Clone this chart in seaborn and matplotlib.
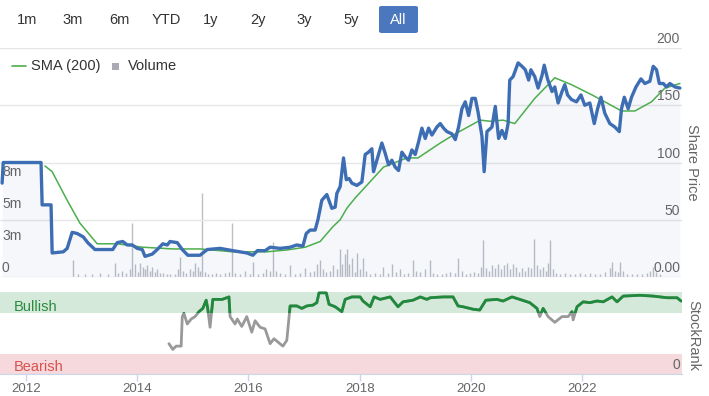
import matplotlib
matplotlib.use("Agg")
from matplotlib import pyplot as plt
from matplotlib.patches import Rectangle, FancyBboxPatch
from matplotlib.lines import Line2D
import seaborn as sns

# share price (decimal years)
price_years = [2011.57, 2011.59, 2012.27, 2012.29, 2012.45, 2012.47, 2012.67, 2012.74, 2012.83, 2012.92,
               2013.03, 2013.11, 2013.24, 2013.56, 2013.64, 2013.74, 2013.82, 2013.91, 2014.00, 2014.09,
               2014.14, 2014.27, 2014.36, 2014.46, 2014.54, 2014.59, 2014.72, 2014.81, 2014.91, 2015.13,
               2015.26, 2015.49, 2015.72, 2015.97, 2016.08, 2016.16, 2016.30, 2016.39, 2016.57, 2016.75,
               2016.87, 2016.98, 2017.04, 2017.11, 2017.20, 2017.25, 2017.32, 2017.41, 2017.50, 2017.56,
               2017.59, 2017.65, 2017.71, 2017.76, 2017.81, 2017.86, 2017.95, 2018.04, 2018.10, 2018.16,
               2018.22, 2018.25, 2018.34, 2018.40, 2018.46, 2018.52, 2018.58, 2018.64, 2018.70, 2018.76,
               2018.82, 2018.88, 2018.94, 2019.00, 2019.06, 2019.12, 2019.18, 2019.24, 2019.30, 2019.39,
               2019.45, 2019.51, 2019.57, 2019.66, 2019.72, 2019.78, 2019.84, 2019.90, 2019.96, 2020.02,
               2020.08, 2020.13, 2020.20, 2020.24, 2020.29, 2020.38, 2020.44, 2020.50, 2020.56, 2020.62,
               2020.67, 2020.70, 2020.76, 2020.85, 2020.92, 2020.98, 2021.04, 2021.08, 2021.15, 2021.21,
               2021.28, 2021.32, 2021.38, 2021.46, 2021.51, 2021.57, 2021.64, 2021.69, 2021.74, 2021.81,
               2021.90, 2021.98, 2022.05, 2022.14, 2022.22, 2022.28, 2022.34, 2022.41, 2022.50, 2022.59,
               2022.67, 2022.71, 2022.76, 2022.83, 2022.89, 2022.97, 2023.06, 2023.13, 2023.22, 2023.28,
               2023.34, 2023.39, 2023.46, 2023.52, 2023.58, 2023.67, 2023.76]
price_values = [82, 100, 100, 63, 63, 21, 22, 25, 39, 38,
                35, 30, 24, 24, 30, 31, 28, 28, 25, 24,
                18, 20, 24, 29, 28, 31, 30, 24, 19, 19,
                24, 25, 23, 21, 19, 23, 23, 26, 25, 26,
                28, 27, 38, 41, 41, 50, 67, 72, 60, 61,
                73, 79, 104, 85, 86, 82, 80, 83, 107, 109,
                112, 92, 107, 117, 108, 98, 102, 96, 93, 109,
                105, 102, 111, 107, 118, 130, 121, 130, 124, 131,
                134, 130, 127, 125, 120, 131, 147, 153, 141, 156,
                156, 144, 123, 92, 127, 131, 149, 121, 128, 121,
                134, 172, 175, 187, 184, 181, 172, 181, 175, 165,
                176, 185, 173, 162, 166, 152, 162, 168, 159, 155,
                153, 159, 150, 152, 134, 147, 157, 143, 134, 131,
                127, 147, 157, 147, 157, 166, 173, 169, 171, 184,
                181, 169, 169, 166, 169, 166, 165]

sma_years = [2012.34, 2012.47, 2012.74, 2012.97, 2013.28, 2013.64, 2014.10, 2014.64, 2015.13, 2015.72,
             2016.33, 2016.69, 2017.02, 2017.29, 2017.52, 2017.65, 2017.77, 2017.92, 2018.43, 2018.85,
             2019.05, 2019.45, 2019.72, 2020.17, 2020.35, 2020.58, 2020.79, 2021.15, 2021.51, 2021.81,
             2022.18, 2022.41, 2022.71, 2022.95, 2023.25, 2023.49, 2023.76]
sma_values = [97, 92, 67, 47, 29, 29, 26, 24.5, 24.5, 22,
              22, 23.6, 26, 31, 44, 50, 60, 69, 96, 104,
              104, 117, 125, 137, 136, 137, 134, 156, 174, 168,
              159, 153, 145, 145, 153, 165, 169]

# volume in millions
volume_years = [2012.85, 2012.93, 2013.06, 2013.19, 2013.33, 2013.47, 2013.60, 2013.65, 2013.73, 2013.80,
                2013.87, 2013.91, 2013.96, 2014.01, 2014.05, 2014.10, 2014.14, 2014.18, 2014.23, 2014.27,
                2014.32, 2014.36, 2014.41, 2014.46, 2014.54, 2014.59, 2014.68, 2014.73, 2014.77, 2014.82,
                2014.88, 2014.95, 2015.00, 2015.04, 2015.09, 2015.13, 2015.17, 2015.22, 2015.27, 2015.35,
                2015.42, 2015.49, 2015.58, 2015.65, 2015.70, 2015.76, 2015.85, 2015.94, 2016.03, 2016.08,
                2016.17, 2016.26, 2016.32, 2016.39, 2016.44, 2016.50, 2016.57, 2016.66, 2016.75, 2016.84,
                2016.93, 2017.02, 2017.11, 2017.18, 2017.23, 2017.29, 2017.34, 2017.40, 2017.47, 2017.52,
                2017.59, 2017.65, 2017.68, 2017.74, 2017.77, 2017.81, 2017.86, 2017.92, 2017.95, 2018.01,
                2018.06, 2018.12, 2018.19, 2018.28, 2018.37, 2018.42, 2018.51, 2018.58, 2018.65, 2018.73,
                2018.80, 2018.87, 2018.96, 2019.01, 2019.09, 2019.18, 2019.27, 2019.32, 2019.39, 2019.48,
                2019.55, 2019.63, 2019.72, 2019.77, 2019.84, 2019.91, 2019.99, 2020.06, 2020.13, 2020.18,
                2020.22, 2020.27, 2020.33, 2020.38, 2020.43, 2020.49, 2020.54, 2020.60, 2020.65, 2020.70,
                2020.76, 2020.81, 2020.87, 2020.92, 2020.97, 2021.03, 2021.08, 2021.14, 2021.19, 2021.24,
                2021.30, 2021.35, 2021.39, 2021.42, 2021.48, 2021.53, 2021.60, 2021.69, 2021.78, 2021.87,
                2021.96, 2022.05, 2022.14, 2022.23, 2022.32, 2022.41, 2022.50, 2022.54, 2022.59, 2022.65,
                2022.68, 2022.74, 2022.81, 2022.90, 2022.99, 2023.08, 2023.17, 2023.22, 2023.28, 2023.33,
                2023.40]
volume_values = [1.3, 0.2, 0.2, 0.2, 0.3, 0.2, 1.1, 0.3, 0.5, 0.3,
                 0.6, 4.2, 1.0, 0.4, 1.1, 0.8, 0.6, 0.9, 0.5, 0.8,
                 0.4, 0.6, 0.3, 0.3, 0.2, 0.2, 0.2, 0.6, 1.6, 0.5,
                 0.3, 0.6, 0.5, 1.1, 0.8, 0.5, 6.6, 0.4, 0.2, 0.2,
                 0.3, 0.2, 0.3, 0.4, 4.2, 0.3, 0.2, 0.5, 0.2, 1.2,
                 0.2, 0.3, 0.6, 0.5, 2.7, 0.5, 0.3, 0.2, 0.9, 0.2,
                 0.3, 0.7, 0.4, 0.5, 1.0, 1.3, 0.6, 0.4, 0.5, 0.9,
                 0.6, 2.2, 1.0, 1.8, 2.2, 1.0, 1.5, 0.4, 1.9, 0.6,
                 1.5, 0.5, 0.2, 0.3, 0.2, 0.8, 0.3, 1.0, 0.4, 0.6,
                 0.2, 0.3, 1.3, 0.5, 0.4, 0.6, 1.3, 0.3, 0.2, 0.2,
                 0.3, 0.4, 0.3, 1.5, 0.5, 0.2, 0.3, 0.4, 0.3, 0.8,
                 2.9, 0.7, 0.5, 0.9, 0.7, 1.0, 0.6, 0.9, 1.1, 0.6,
                 1.0, 0.8, 0.4, 0.7, 0.5, 0.8, 0.7, 3.0, 0.9, 0.6,
                 0.8, 0.5, 1.1, 2.9, 0.6, 0.3, 0.2, 0.3, 0.2, 0.2,
                 0.3, 0.2, 0.3, 0.2, 0.2, 0.4, 0.7, 1.2, 0.5, 0.4,
                 1.2, 0.5, 0.2, 0.2, 0.2, 0.2, 0.3, 0.5, 0.8, 0.4,
                 0.2]

rank_years = [2014.57, 2014.64, 2014.70, 2014.79, 2014.81, 2014.84, 2014.90, 2014.97, 2015.04, 2015.11,
              2015.18, 2015.24, 2015.27, 2015.31, 2015.36, 2015.53, 2015.65, 2015.67, 2015.76, 2015.80,
              2015.88, 2015.97, 2016.06, 2016.12, 2016.21, 2016.30, 2016.39, 2016.46, 2016.53, 2016.62,
              2016.69, 2016.75, 2016.87, 2016.96, 2017.05, 2017.16, 2017.23, 2017.27, 2017.40, 2017.45,
              2017.56, 2017.68, 2017.74, 2017.86, 2018.01, 2018.06, 2018.19, 2018.26, 2018.37, 2018.55,
              2018.69, 2018.78, 2018.96, 2019.09, 2019.21, 2019.27, 2019.50, 2019.68, 2019.77, 2019.86,
              2020.04, 2020.16, 2020.27, 2020.47, 2020.58, 2020.74, 2020.88, 2021.06, 2021.19, 2021.24,
              2021.30, 2021.39, 2021.51, 2021.64, 2021.75, 2021.82, 2021.84, 2021.91, 2022.02, 2022.14,
              2022.27, 2022.38, 2022.54, 2022.63, 2022.74, 2023.04, 2023.28, 2023.53, 2023.71, 2023.78]
rank_values = [37, 30, 34, 34, 70, 74, 61, 67, 70, 76,
               80, 90, 79, 57, 91, 91, 94, 70, 61, 67,
               58, 70, 51, 65, 57, 55, 37, 43, 39, 34,
               41, 83, 83, 80, 83, 84, 87, 99, 99, 85,
               82, 76, 91, 94, 94, 89, 82, 94, 91, 94,
               82, 88, 90, 94, 91, 93, 94, 94, 83, 82,
               79, 78, 90, 91, 89, 94, 91, 87, 80, 70,
               80, 70, 63, 70, 70, 76, 66, 82, 88, 87,
               89, 88, 94, 88, 95, 96, 95, 93, 93, 89]

year_ticks = [2012, 2014, 2016, 2018, 2020, 2022]
price_ticks = [0, 50, 100, 150, 200]
price_tick_labels = ["0.00", "50", "100", "150", "200"]
volume_ticks = [0, 2.5, 5, 7.5]
volume_tick_labels = ["0", "3m", "5m", "8m"]
buttons = ["1m", "3m", "6m", "YTD", "1y", "2y", "3y", "5y", "All"]
button_x = [27, 73, 119, 166, 211, 258, 304, 351, 398]

W, H = 709, 396
X0, X1 = 2011.532, 2023.798


def px(x, y):
    return x / W, 1 - y / H


sns.set_style("white")
plt.rcParams['font.family'] = ['Liberation Sans', 'DejaVu Sans']

fig = plt.figure(figsize=(W / 100, H / 100), dpi=100)

# ---- price panel
ax_v = fig.add_axes([0, 1 - 277 / H, 682 / W, 229 / H])
ax = fig.add_axes([0, 1 - 277 / H, 682 / W, 229 / H], sharex=ax_v)
ax.set_zorder(ax_v.get_zorder() + 1)
ax.patch.set_visible(False)

ax_v.vlines(volume_years, 0, volume_values, color='#bdbdc5', linewidth=1)
ax_v.set_ylim(0, 17.9)
for v, lbl in zip(volume_ticks, volume_tick_labels):
    ax_v.annotate(lbl, xy=(0, v), xycoords=('axes fraction', 'data'), xytext=(2, 2),
                  textcoords='offset pixels', ha='left', va='bottom', fontsize=10,
                  color='#666666', annotation_clip=False)

for v in price_ticks:
    ax.axhline(v, color='#e6e6e6', linewidth=1, zorder=0)
ax.fill_between(price_years, price_values, 0, color='#3e6db3', alpha=0.05, linewidth=0)
sns.lineplot(x=sma_years, y=sma_values, ax=ax, color='#4cae4c', linewidth=1.1,
             sort=False, estimator=None)
sns.lineplot(x=price_years, y=price_values, ax=ax, color='#3d6eb4', linewidth=2.4,
             sort=False, estimator=None)
ax.set_ylim(0, 200)
ax.set_xlim(X0, X1)
for v, lbl in zip(price_ticks, price_tick_labels):
    ax.annotate(lbl, xy=(1, v), xycoords=('axes fraction', 'data'), xytext=(-2, 2),
                textcoords='offset pixels', ha='right', va='bottom', fontsize=10,
                color='#666666', annotation_clip=False)

for a in (ax, ax_v):
    a.set_xticks([])
    a.set_yticks([])
    a.set_xlabel('')
    a.set_ylabel('')
    for s in a.spines.values():
        s.set_visible(False)

# ---- StockRank panel
ax_r = fig.add_axes([0, 1 - 374 / H, 682 / W, 82 / H])
ax_r.axhspan(75, 100, color='#d4e9da', linewidth=0)
ax_r.axhspan(0, 25, color='#f5d9dc', linewidth=0)
ax_r.axhline(101.5, color='#e6e6e6', linewidth=1)
sns.lineplot(x=rank_years, y=rank_values, ax=ax_r, color='#999999', linewidth=2,
             sort=False, estimator=None)
sns.lineplot(x=rank_years, y=rank_values, ax=ax_r, color='#1f8a3b', linewidth=2,
             sort=False, estimator=None)
green = ax_r.lines[-1]
green.set_clip_path(Rectangle((X0, 75), X1 - X0, 40, transform=ax_r.transData))
ax_r.set_xlim(X0, X1)
ax_r.set_ylim(0, 100)
ax_r.set_yticks([])
ax_r.set_xticks(year_ticks)
ax_r.set_xticklabels([str(y) for y in year_ticks])
ax_r.tick_params(axis='x', direction='out', length=5, width=1, color='#ccd6eb',
                 labelcolor='#666666', labelsize=9.5, pad=1.5, bottom=True)
ax_r.set_xlabel('')
ax_r.set_ylabel('')
for k, s in ax_r.spines.items():
    s.set_visible(k == 'bottom')
ax_r.spines['bottom'].set_color('#ccd6eb')
ax_r.text(14 / 682, 82, 'Bullish', transform=ax_r.get_yaxis_transform(), color='#2b8a3e',
          fontsize=10.5, va='center', ha='left')
ax_r.text(14 / 682, 9, 'Bearish', transform=ax_r.get_yaxis_transform(), color='#d9534f',
          fontsize=10.5, va='center', ha='left')
ax_r.annotate('0', xy=(1, 0), xycoords=('axes fraction', 'data'), xytext=(-2, 2),
              textcoords='offset pixels', ha='right', va='bottom', fontsize=10,
              color='#666666', annotation_clip=False)

# ---- axis titles
fig.text(*px(692, 162), 'Share Price', rotation=-90, ha='center', va='center',
         fontsize=10.5, color='#666666')
fig.text(*px(693, 335), 'StockRank', rotation=-90, ha='center', va='center',
         fontsize=10.5, color='#666666')

# ---- legend
fig.add_artist(Line2D([12 / W, 26 / W], [1 - 66 / H, 1 - 66 / H], color='#4cae4c', linewidth=1.2))
fig.text(*px(31, 66), 'SMA (200)', ha='left', va='center', fontsize=10.5, color='#333333')
fig.add_artist(Rectangle(px(112, 70), 7 / W, 7 / H, color='#aaaab2', linewidth=0))
fig.text(*px(128, 66), 'Volume', ha='left', va='center', fontsize=10.5, color='#333333')

# ---- range buttons
fig.add_artist(FancyBboxPatch(px(379, 33), 39 / W, 27 / H,
                              boxstyle='round,pad=0,rounding_size=0.004',
                              facecolor='#4a77bd', edgecolor='none'))
for lbl, bx in zip(buttons, button_x):
    fig.text(*px(bx, 20), lbl, ha='center', va='center', fontsize=10.5,
             color='white' if lbl == 'All' else '#333333')

fig.savefig('out.png', dpi=100)
